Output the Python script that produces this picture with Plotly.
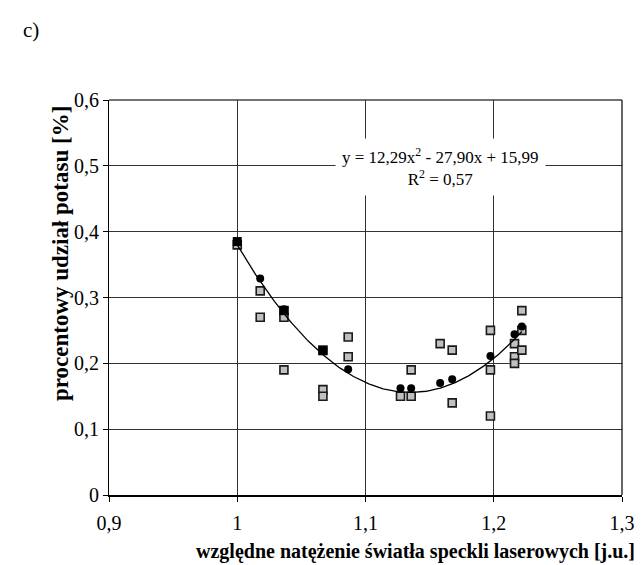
import numpy as np
import plotly.graph_objects as go

# individual measurements (grey squares)
gray_x = [1.0, 1.0179, 1.0179, 1.0364, 1.0364, 1.0364, 1.0668, 1.0668, 1.0668, 1.0865, 1.0865,
          1.1273, 1.1356, 1.1356, 1.1582, 1.1676, 1.1676, 1.1974, 1.1974, 1.1974,
          1.2162, 1.2162, 1.2162, 1.2219, 1.2219, 1.2219]
gray_y = [0.38, 0.31, 0.27, 0.28, 0.27, 0.19, 0.22, 0.16, 0.15, 0.24, 0.21,
          0.15, 0.15, 0.19, 0.23, 0.22, 0.14, 0.25, 0.19, 0.12,
          0.23, 0.21, 0.20, 0.28, 0.25, 0.22]

# mean values (black circles)
mean_x = [1.0179, 1.0364, 1.0865, 1.1273, 1.1356, 1.1582, 1.1676, 1.1974, 1.2162, 1.2219]
mean_y = [0.329, 0.282, 0.191, 0.162, 0.162, 0.170, 0.176, 0.211, 0.244, 0.256]

# mean values (black squares)
sq_x = [1.0, 1.0364, 1.0668]
sq_y = [0.385, 0.280, 0.219]

# trendline coefficients y = a x^2 + b x + c
coef_a, coef_b, coef_c = 12.29, -27.90, 15.99
trend_range = [1.0, 1.2219]

x_tickvals = [0.9, 1.0, 1.1, 1.2, 1.3]
x_ticktext = ["0,9", "1", "1,1", "1,2", "1,3"]
y_tickvals = [0, 0.1, 0.2, 0.3, 0.4, 0.5, 0.6]
y_ticktext = ["0", "0,1", "0,2", "0,3", "0,4", "0,5", "0,6"]

xs = np.linspace(trend_range[0], trend_range[1], 200)
ys = np.polyval([coef_a, coef_b, coef_c], xs)

FONT = "Liberation Serif"

fig = go.Figure()
fig.add_trace(go.Scatter(x=gray_x, y=gray_y, mode="markers",
                         marker=dict(symbol="square", size=8, color="#c0c0c0",
                                     line=dict(color="#1a1a1a", width=1.6)),
                         showlegend=False, hoverinfo="skip"))
fig.add_trace(go.Scatter(x=xs, y=ys, mode="lines", line=dict(color="black", width=1.3),
                         showlegend=False, hoverinfo="skip"))
fig.add_trace(go.Scatter(x=mean_x, y=mean_y, mode="markers",
                         marker=dict(symbol="circle", size=8, color="black"),
                         showlegend=False, hoverinfo="skip"))
fig.add_trace(go.Scatter(x=sq_x, y=sq_y, mode="markers",
                         marker=dict(symbol="square", size=9, color="black"),
                         showlegend=False, hoverinfo="skip"))

fig.update_layout(
    width=642, height=565,
    margin=dict(l=101, r=28, t=92, b=78),
    paper_bgcolor="white", plot_bgcolor="white",
    font=dict(family=FONT, size=20, color="black"),
    xaxis=dict(range=[0.9, 1.3], tickvals=x_tickvals, ticktext=x_ticktext,
               showgrid=True, gridcolor="#333333", gridwidth=1,
               showline=True, linecolor="black", linewidth=2,
               ticks="outside", ticklen=5, tickcolor="black",
               ticklabelstandoff=4,
               tickfont=dict(family=FONT, size=20), zeroline=False),
    yaxis=dict(range=[0, 0.6], tickvals=y_tickvals, ticktext=y_ticktext,
               showgrid=True, gridcolor="#333333", gridwidth=1,
               showline=True, linecolor="black", linewidth=1,
               ticks="outside", ticklen=5, tickcolor="black",
               tickfont=dict(family=FONT, size=20), zeroline=False),
    shapes=[
        dict(type="line", xref="paper", yref="paper", x0=0, x1=1, y0=1, y1=1,
             line=dict(color="#444444", width=1.5)),
        dict(type="line", xref="paper", yref="paper", x0=1, x1=1, y0=0, y1=1,
             line=dict(color="black", width=1.2)),
    ],
    annotations=[
        dict(text="y = 12,29x<sup>2</sup> - 27,90x + 15,99<br>R<sup>2</sup> = 0,57",
             x=1.1588, y=0.498, xref="x", yref="y", showarrow=False,
             font=dict(family=FONT, size=17), bgcolor="white", borderpad=6,
             align="center"),
        dict(text="<b>procentowy udział potasu [%]</b>", textangle=-90,
             x=-0.0955, y=0.61, xref="paper", yref="paper", showarrow=False,
             font=dict(family=FONT, size=23), xanchor="center", yanchor="middle"),
        dict(text="<b>względne natężenie światła speckli laserowych [j.u.]</b>",
             x=0.598, y=-0.142, xref="paper", yref="paper", showarrow=False,
             font=dict(family=FONT, size=20), xanchor="center", yanchor="middle"),
        dict(text="c)", x=-0.152, y=1.177, xref="paper", yref="paper", showarrow=False,
             font=dict(family=FONT, size=21), xanchor="center", yanchor="middle"),
    ],
)

fig.write_html("out.html")
